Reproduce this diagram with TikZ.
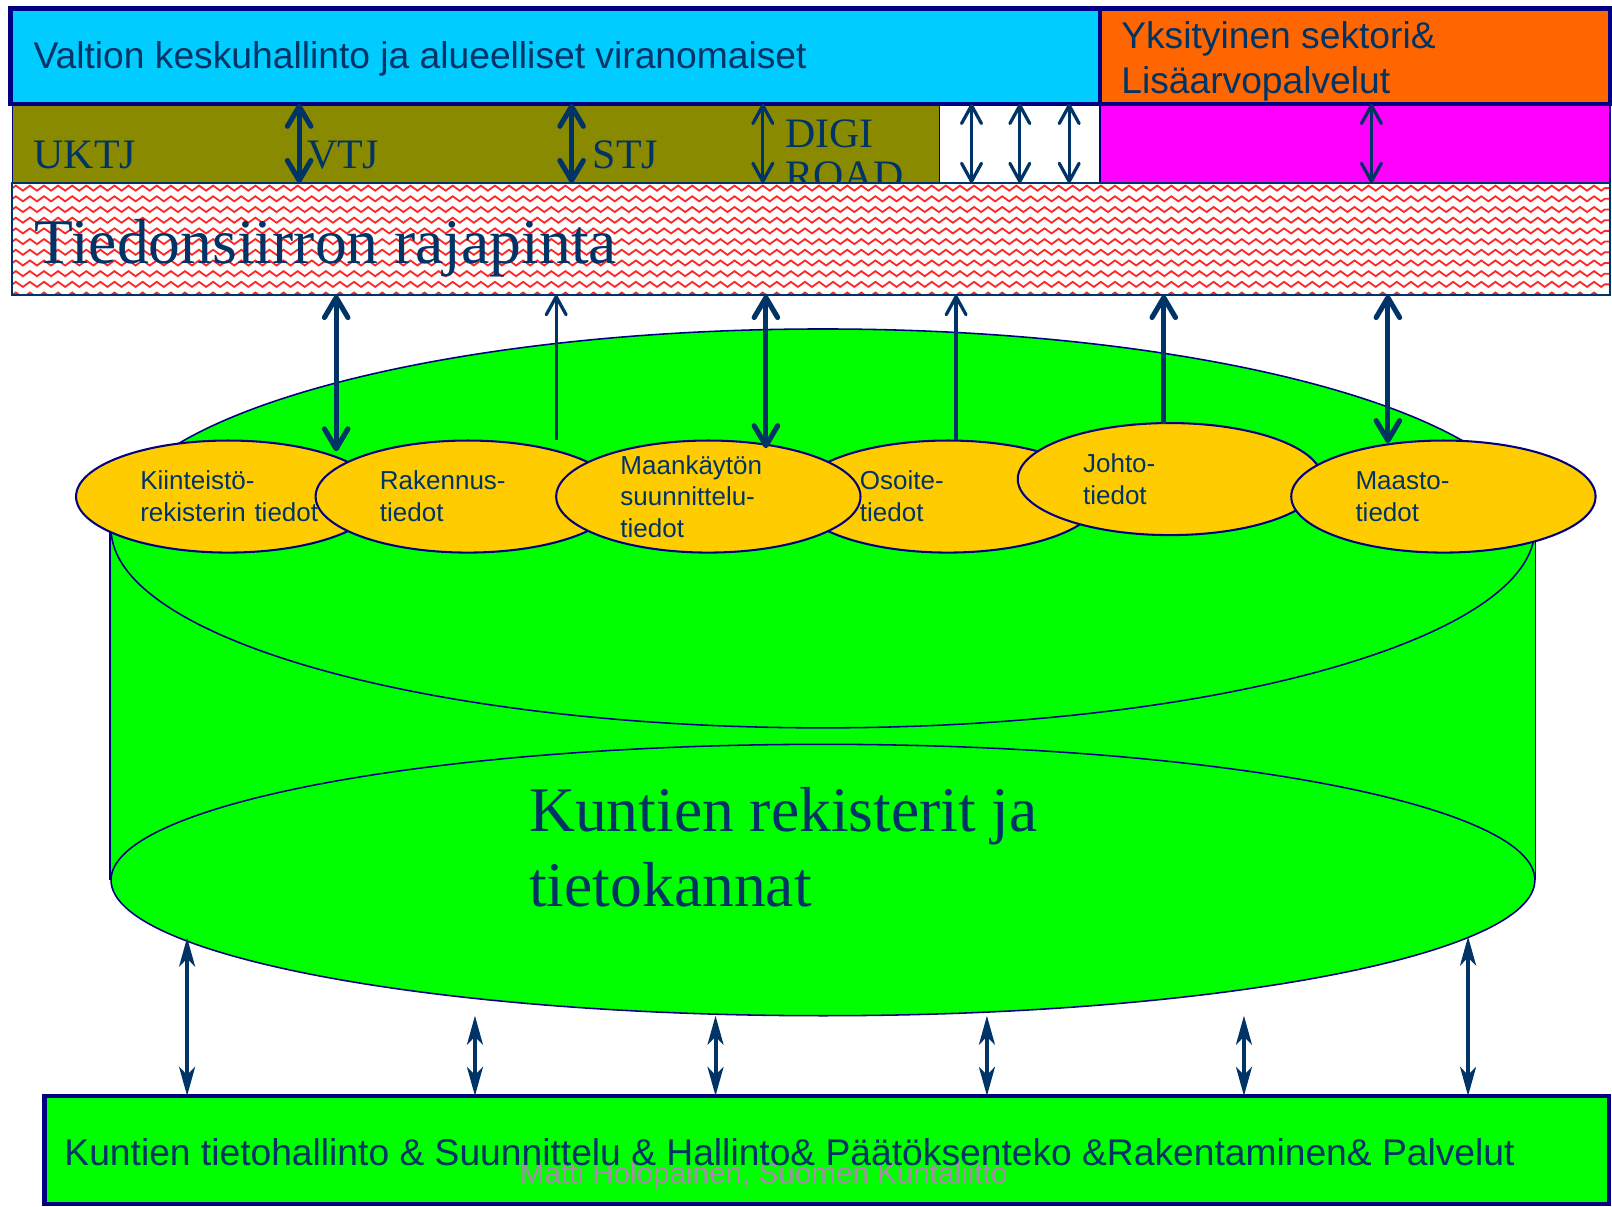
\documentclass[tikz,border=0pt]{standalone}
\usepackage{fontspec}
\setmainfont{Liberation Serif}
\setsansfont{Liberation Sans}
\usetikzlibrary{calc}
\usetikzlibrary{shapes.geometric}
\usetikzlibrary{arrows.meta}
\usetikzlibrary{decorations.pathmorphing}

\definecolor{vcyan}{HTML}{00CCFF}
\definecolor{porange}{HTML}{FF6600}
\definecolor{kolive}{HTML}{8A8A00}
\definecolor{pmagenta}{HTML}{FF00FF}
\definecolor{kgreen}{HTML}{00FF00}
\definecolor{kgold}{HTML}{FFCC00}
\definecolor{bordernavy}{HTML}{000080}
\definecolor{arrowblue}{HTML}{003366}
\definecolor{txtblue}{HTML}{003366}
\definecolor{footpink}{RGB}{175,135,175}

\tikzset{
    box/.style={draw=bordernavy, line width=1.28pt, inner sep=0pt, outer sep=0pt},
    band/.style={draw=bordernavy, line width=0.43pt, inner sep=0pt, outer sep=0pt, minimum height=7.7mm},
    blob/.style={ellipse, draw=bordernavy, line width=0.57pt, fill=kgold, minimum width=29.6mm, minimum height=10.9mm, inner sep=0pt},
    blobtext/.style={font=\sffamily\fontsize{7.2pt}{8.8pt}\selectfont, text=txtblue, text width=17.5mm, align=left, inner sep=0pt},
    toptext/.style={font=\sffamily\fontsize{10.3pt}{12.4pt}\selectfont, text=txtblue, inner sep=0pt},
    bandtext/.style={font=\rmfamily\fontsize{11.6pt}{11.7pt}\selectfont, text=txtblue, inner sep=0pt},
    bigtext/.style={font=\rmfamily\fontsize{17.6pt}{20.8pt}\selectfont, text=txtblue, inner sep=0pt},
    cylpart/.style={ellipse, draw=bordernavy, line width=0.43pt, fill=kgreen, minimum width=138.5mm, inner sep=0pt},
    bigarr/.style={draw=arrowblue, line width=1.42pt, >={Straight Barb[length=5.5pt,width=6.5pt,round]}},
    smallarr/.style={draw=arrowblue, line width=0.9pt, >={Straight Barb[length=5pt,width=5.5pt,round]}},
    basearr/.style={draw=arrowblue, line width=1.1pt, >={Stealth[length=8pt,width=4.4pt,inset=2.2pt]}},
    zig/.style={draw=red!85!white, line width=0.5pt, decorate, decoration={zigzag, segment length=3.9pt, amplitude=0.7pt}}
}

\begin{document}
\begin{tikzpicture}[x=0.1mm, y=-0.1mm]
            \useasboundingbox (0,0) rectangle (1568,1174);

            \node[band, fill=kolive, minimum width=90.2mm] (olive) at (463,139.5) {};
            \node[band, fill=white, minimum width=15.6mm] (tyhja) at (992,139.5) {};
            \node[band, fill=pmagenta, minimum width=49.6mm] (magenta) at (1318,139.5) {};
            \node[bandtext, anchor=base west] (uktj) at (32,164) {UKTJ};
            \node[bandtext, anchor=base west] (vtj) at (298,164) {VTJ};
            \node[bandtext, anchor=base west] (stj) at (576,164) {STJ};
            \node[bandtext, align=left, anchor=north west] (digi) at (763,116) {DIGI\\ROAD};

            \node[draw=arrowblue, line width=0.55pt, fill=white, minimum width=155.4mm, minimum height=10.9mm, inner sep=0pt, outer sep=0pt] (iface) at (789,232.5) {};
            \begin{scope}
                \clip (iface.north west) rectangle (iface.south east);
                \foreach \r in {0,...,10}
                    \draw[zig] (12,183+10.4*\r) -- (1566,183+10.4*\r);
            \end{scope}
            \draw[arrowblue, line width=0.55pt] (iface.north west) rectangle (iface.south east);
            \node[bigtext, anchor=base west] (rajapinta) at (33,256) {Tiedonsiirron rajapinta};

            \node[box, fill=vcyan, minimum width=106mm, minimum height=9.3mm] (valtio) at (540,54.5) {};
            \node[box, fill=porange, minimum width=49.6mm, minimum height=9.3mm] (yksit) at (1318,54.5) {};
            \node[toptext, anchor=base west] (valtiotxt) at (32,66.5) {Valtion keskuhallinto ja alueelliset viranomaiset};
            \node[toptext, align=left, anchor=north west] (yksittxt) at (1090,20) {Yksityinen sektori\&\\Lisäarvopalvelut};

            \fill[kgreen] (108,514) rectangle (1493,856);
            \node[cylpart, minimum height=26.4mm] (cylbot) at (800.5,856) {};
            \node[cylpart, minimum height=38.8mm] (cyltop) at (800.5,514) {};
            \draw[bordernavy, line width=0.43pt] (cyltop.west) -- (cylbot.west);
            \draw[bordernavy, line width=0.43pt] (cyltop.east) -- (cylbot.east);
            \node[bigtext, align=left, anchor=north west] (kanta) at (514,765) {Kuntien rekisterit ja\\tietokannat};

            \node[blob] (kiint) at (222,483) {};
            \node[blob] (rak) at (455,483) {};
            \node[blob] (osoite) at (922,483) {};
            \node[blob] (maank) at (689,483) {};
            \node[blob] (johto) at (1138,466) {};
            \node[blob] (maasto) at (1404,483) {};
            \node[blobtext] (kiinttxt) at ($(kiint)+(2,0)$) {Kiinteistö-\\rekisterin~tiedot};
            \node[blobtext] (raktxt) at ($(rak)+(2,0)$) {Rakennus-\\tiedot};
            \node[blobtext] (maanktxt) at ($(maank)+(2,0)$) {Maankäytön\\suunnittelu-\\tiedot};
            \node[blobtext] (osoitetxt) at ($(osoite)+(2,0)$) {Osoite-\\tiedot};
            \node[blobtext] (johtotxt) at ($(johto)+(3,0)$) {Johto-\\tiedot};
            \node[blobtext] (maastotxt) at ($(maasto)+(2,0)$) {Maasto-\\tiedot};

            \node[box, fill=kgreen, minimum width=152.2mm, minimum height=10.5mm] (kunta) at (804,1118.5) {};
            \node[font=\sffamily\fontsize{8.2pt}{9pt}\selectfont, text=footpink, inner sep=0pt, anchor=base west] (tekija) at (505,1151) {Matti Holopainen, Suomen Kuntaliitto};
            \node[toptext, anchor=base west] (kuntatxt) at (62,1134) {Kuntien tietohallinto \& Suunnittelu \& Hallinto\& Päätöksenteko \&Rakentaminen\& Palvelut};

            \draw[bigarr,<->] (valtio.south -| 291,0) -- (olive.south -| 291,0);
            \draw[bigarr,<->] (valtio.south -| 556,0) -- (olive.south -| 556,0);
            \draw[smallarr,<->] (valtio.south -| 742,0) -- (olive.south -| 742,0);
            \draw[smallarr,<->] (valtio.south -| 945,0) -- (tyhja.south -| 945,0);
            \draw[smallarr,<->] (valtio.south -| 992,0) -- (tyhja.south -| 992,0);
            \draw[smallarr,<->] (valtio.south -| 1040,0) -- (tyhja.south -| 1040,0);
            \draw[smallarr,<->] (yksit.south -| 1334,0) -- (magenta.south -| 1334,0);

            \coordinate (f1) at (327,439);
            \coordinate (f2) at (541,428);
            \coordinate (f3) at (745,436);
            \coordinate (f4) at (930,428);
            \coordinate (f5) at (1132,412);
            \coordinate (f6) at (1350,431);
            \draw[bigarr,<->] (iface.south -| f1) -- (f1);
            \draw[smallarr,->] (f2) -- (iface.south -| f2);
            \draw[bigarr,<->] (iface.south -| f3) -- (f3);
            \draw[smallarr,->] (f4) -- (iface.south -| f4);
            \draw[bigarr,->] (f5) -- (iface.south -| f5);
            \draw[bigarr,<->] (iface.south -| f6) -- (f6);

            \coordinate (b1) at (182,912);
            \coordinate (b2) at (462,988);
            \coordinate (b3) at (696,988);
            \coordinate (b4) at (960,988);
            \coordinate (b5) at (1210,988);
            \coordinate (b6) at (1428,911);
            \draw[basearr,<->] (b1) -- (b1 |- kunta.north);
            \draw[basearr,<->] (b2) -- (b2 |- kunta.north);
            \draw[basearr,<->] (b3) -- (b3 |- kunta.north);
            \draw[basearr,<->] (b4) -- (b4 |- kunta.north);
            \draw[basearr,<->] (b5) -- (b5 |- kunta.north);
            \draw[basearr,<->] (b6) -- (b6 |- kunta.north);
\end{tikzpicture}
\end{document}
